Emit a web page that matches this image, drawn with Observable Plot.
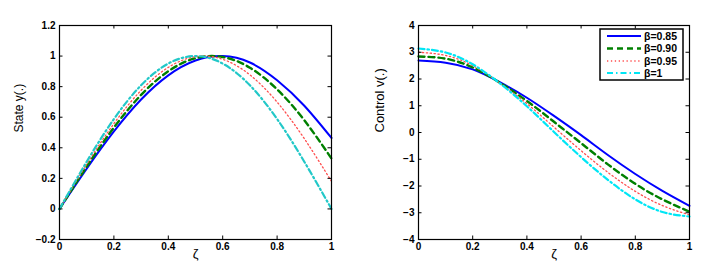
<!DOCTYPE html>
<html>
<head>
<meta charset="utf-8">
<script src="https://cdn.jsdelivr.net/npm/d3@7"></script>
<script src="https://cdn.jsdelivr.net/npm/@observablehq/plot@0.6"></script>
<style>
  html, body { margin: 0; padding: 0; background: white; }
  #wrap { display: flex; width: 721px; height: 269px; }
  svg { display: block; }
</style>
</head>
<body>
<div id="wrap"></div>
<script>
// ---- data ----
const zeta = [0, 0.1, 0.2, 0.3, 0.4, 0.5, 0.6, 0.7, 0.8, 0.9, 1.0];
const betas = ["β=0.85", "β=0.90", "β=0.95", "β=1"];

const stateB085 = [0, 0.263, 0.507, 0.716, 0.874, 0.971, 1.000, 0.958, 0.842, 0.675, 0.464];
const stateB090 = [0, 0.277, 0.532, 0.746, 0.901, 0.986, 0.994, 0.924, 0.782, 0.580, 0.330];
const stateB095 = [0, 0.292, 0.558, 0.776, 0.926, 0.996, 0.979, 0.877, 0.699, 0.460, 0.180];
const stateB100 = [0, 0.309, 0.588, 0.809, 0.951, 1.000, 0.951, 0.809, 0.588, 0.309, 0.000];

const ctrlB085 = [2.69, 2.61, 2.36, 1.88, 1.30, 0.62, -0.10, -0.85, -1.55, -2.18, -2.74];
const ctrlB090 = [2.84, 2.76, 2.43, 1.86, 1.18, 0.40, -0.40, -1.20, -1.92, -2.50, -2.96];
const ctrlB095 = [3.00, 2.88, 2.50, 1.85, 1.08, 0.20, -0.68, -1.50, -2.20, -2.73, -3.08];
const ctrlB100 = [3.14, 2.99, 2.55, 1.84, 0.98, 0.02, -0.92, -1.78, -2.50, -2.97, -3.14];

const xTicks = [0, 0.2, 0.4, 0.6, 0.8, 1];
const yTicksState = [-0.2, 0, 0.2, 0.4, 0.6, 0.8, 1, 1.2];
const yTicksCtrl = [-4, -3, -2, -1, 0, 1, 2, 3, 4];

// ---- styles ----
const styles = [
  {stroke: "#0000ff", strokeWidth: 2, strokeDasharray: null},
  {stroke: "#008000", strokeWidth: 2.4, strokeDasharray: "6,4"},
  {stroke: "#ff4d4d", strokeWidth: 1.3, strokeDasharray: "1.3,2.6"},
  {stroke: null, strokeWidth: 2.2, strokeDasharray: "6,3,1.5,3"}
];

const fmt = d => (d < 0 ? "−" : "") + String(+Math.abs(d).toFixed(1));

function toRows(seriesList) {
  const rows = [];
  seriesList.forEach((vals, i) => vals.forEach((v, j) => rows.push({x: zeta[j], y: v, s: betas[i]})));
  return rows;
}

function panel({width, mL, mR, series, yDomain, yTicks, ylabel, ylabelSize, cyan}) {
  const mT = 25, mB = 30, height = 269;
  const innerH = height - mT - mB;
  const innerW = width - mL - mR;
  const rows = toRows(series);
  const tk = 3.5;
  const lines = betas.map((b, i) => Plot.line(rows.filter(r => r.s === b), {
    x: "x", y: "y", curve: "natural",
    stroke: styles[i].stroke || cyan,
    strokeWidth: styles[i].strokeWidth,
    strokeDasharray: styles[i].strokeDasharray
  }));
  return Plot.plot({
    width, height,
    marginLeft: mL, marginRight: mR, marginTop: mT, marginBottom: mB,
    x: {domain: [0, 1]},
    y: {domain: yDomain},
    style: {fontFamily: "'Liberation Sans', Arial, sans-serif", fontSize: "10px", fontWeight: "bold", background: "white", color: "black"},
    marks: [
      ...lines,
      Plot.ruleX(xTicks, {x: d => d, insetTop: innerH - tk, stroke: "black"}),
      Plot.ruleX(xTicks, {x: d => d, insetBottom: innerH - tk, stroke: "black"}),
      Plot.ruleY(yTicks, {y: d => d, insetRight: innerW - tk, stroke: "black"}),
      Plot.ruleY(yTicks, {y: d => d, insetLeft: innerW - tk, stroke: "black"}),
      Plot.axisX({ticks: xTicks, tickSize: 0, tickPadding: 3, label: null, tickFormat: fmt}),
      Plot.axisY({ticks: yTicks, tickSize: 0, tickPadding: 4, label: null, tickFormat: fmt}),
      Plot.frame({stroke: "black", strokeWidth: 1.2}),
      Plot.text([ylabel], {frameAnchor: "left", dx: -(mL - 19), rotate: -90, fontSize: ylabelSize, fontWeight: "normal"}),
      Plot.text(["ζ"], {frameAnchor: "bottom", dy: 18, fontSize: 13, fontWeight: "normal"})
    ]
  });
}

const left = panel({
  width: 360, mL: 59, mR: 29,
  series: [stateB085, stateB090, stateB095, stateB100],
  yDomain: [-0.2, 1.2], yTicks: yTicksState,
  ylabel: "State y(.)", ylabelSize: 12, cyan: "#22c8c8"
});
const right = panel({
  width: 361, mL: 58, mR: 32,
  series: [ctrlB085, ctrlB090, ctrlB095, ctrlB100],
  yDomain: [-4, 4], yTicks: yTicksCtrl,
  ylabel: "Control v(.)", ylabelSize: 13, cyan: "#00e6f5"
});

document.getElementById("wrap").append(left, right);

// ---- legend (right panel) ----
const svg = d3.select(right);
const lg = svg.append("g").attr("text-anchor", "start");
lg.append("rect").attr("x", 240).attr("y", 29).attr("width", 83).attr("height", 51)
  .attr("fill", "white").attr("stroke", "black").attr("stroke-width", 1.5);
const rowY = [36, 48.5, 61, 73];
betas.forEach((b, i) => {
  lg.append("line").attr("x1", 247).attr("x2", 281).attr("y1", rowY[i]).attr("y2", rowY[i])
    .attr("stroke", styles[i].stroke || "#00e6f5")
    .attr("stroke-width", styles[i].strokeWidth)
    .attr("stroke-dasharray", styles[i].strokeDasharray);
  lg.append("text").attr("x", 284).attr("y", rowY[i]).attr("dy", "0.35em")
    .attr("text-anchor", "start")
    .attr("font-family", "'Liberation Sans', Arial, sans-serif")
    .attr("font-size", 10.5).attr("font-weight", "bold").text(b);
});
</script>
</body>
</html>
